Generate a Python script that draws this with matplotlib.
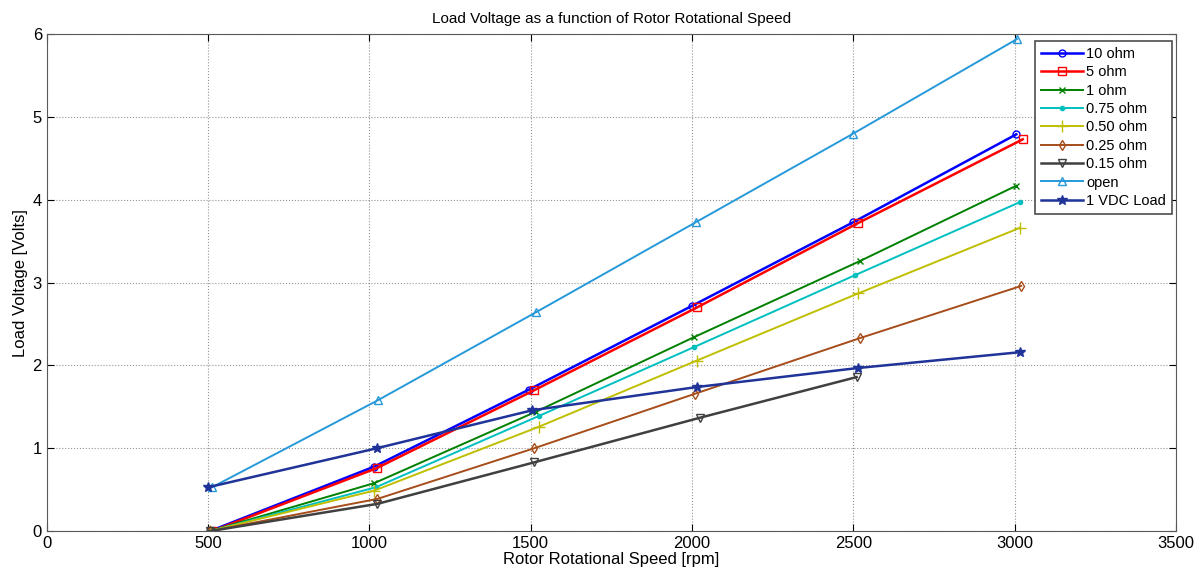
import matplotlib
matplotlib.use('Agg')
import matplotlib.pyplot as plt

plt.rcParams['font.family'] = ['Liberation Sans', 'DejaVu Sans']

# rotor speed [rpm] and load voltage [V] for each load
rpm_10 = [505, 1015, 1495, 2000, 2500, 3005]
v_10 = [0.0, 0.78, 1.71, 2.72, 3.73, 4.79]
rpm_5 = [512, 1022, 1510, 2015, 2515, 3025]
v_5 = [0.0, 0.76, 1.70, 2.70, 3.72, 4.73]
rpm_1 = [505, 1015, 1515, 2005, 2520, 3005]
v_1 = [0.0, 0.58, 1.44, 2.34, 3.26, 4.17]
rpm_075 = [505, 1020, 1525, 2005, 2505, 3015]
v_075 = [0.0, 0.53, 1.39, 2.22, 3.09, 3.97]
rpm_050 = [505, 1015, 1525, 2015, 2515, 3015]
v_050 = [0.0, 0.49, 1.26, 2.06, 2.87, 3.66]
rpm_025 = [505, 1025, 1510, 2010, 2520, 3020]
v_025 = [0.0, 0.39, 1.00, 1.66, 2.33, 2.96]
rpm_015 = [505, 1025, 1510, 2025, 2510]
v_015 = [0.0, 0.33, 0.83, 1.37, 1.86]
rpm_open = [512, 1026, 1515, 2012, 2500, 3007]
v_open = [0.53, 1.58, 2.64, 3.73, 4.80, 5.94]
rpm_vdc = [500, 1022, 1505, 2015, 2515, 3015]
v_vdc = [0.53, 1.00, 1.46, 1.74, 1.97, 2.16]

fig = plt.figure(figsize=(12, 5.78), dpi=100)
ax = fig.add_axes([0.039, 0.081, 0.941, 0.86])

ax.plot(rpm_10, v_10, color=(0, 0, 1), marker='o', mfc='none', ms=5, lw=1.8, label='10 ohm')
ax.plot(rpm_5, v_5, color=(1, 0, 0), marker='s', mfc='none', ms=6, lw=1.8, label='5 ohm')
ax.plot(rpm_1, v_1, color=(0, 0.5, 0), marker='x', ms=5, lw=1.4, label='1 ohm')
ax.plot(rpm_075, v_075, color=(0, 0.75, 0.75), marker='.', ms=6, lw=1.4, label='0.75 ohm')
ax.plot(rpm_050, v_050, color=(0.75, 0.75, 0), marker='+', ms=9, lw=1.4, label='0.50 ohm')
ax.plot(rpm_025, v_025, color=(0.65, 0.3, 0.1), marker='d', mfc='none', ms=5, lw=1.4, label='0.25 ohm')
ax.plot(rpm_015, v_015, color=(0.25, 0.25, 0.25), marker='v', mfc='none', ms=6, lw=1.8, label='0.15 ohm')
ax.plot(rpm_open, v_open, color=(0.15, 0.6, 0.85), marker='^', mfc='none', ms=6, lw=1.4, label='open')
ax.plot(rpm_vdc, v_vdc, color=(0.12, 0.2, 0.6), marker='*', ms=7, lw=1.8, label='1 VDC Load')

ax.set_xlim(0, 3500)
ax.set_ylim(0, 6)
ax.set_xticks(range(0, 3501, 500))
ax.set_yticks(range(0, 7))
ax.grid(True, linestyle=':', color='0.3', linewidth=0.8, alpha=0.6)
ax.tick_params(direction='in', top=True, right=True, labelsize=12, length=5)
for s in ax.spines.values():
    s.set_color('0.35')

ax.set_xlabel('Rotor Rotational Speed [rpm]', fontsize=12, labelpad=1)
ax.set_ylabel('Load Voltage [Volts]', fontsize=12, labelpad=3)
ax.set_title('Load Voltage as a function of Rotor Rotational Speed', fontsize=11, pad=8)

leg = ax.legend(loc='upper right', fontsize=10.5, fancybox=False, edgecolor='0.3',
                framealpha=1, handlelength=2.9, handletextpad=0.2, borderpad=0.4,
                labelspacing=0.3, borderaxespad=0, bbox_to_anchor=(0.9965, 0.986))
leg.get_frame().set_linewidth(1.2)

fig.savefig('out.png', dpi=100)
